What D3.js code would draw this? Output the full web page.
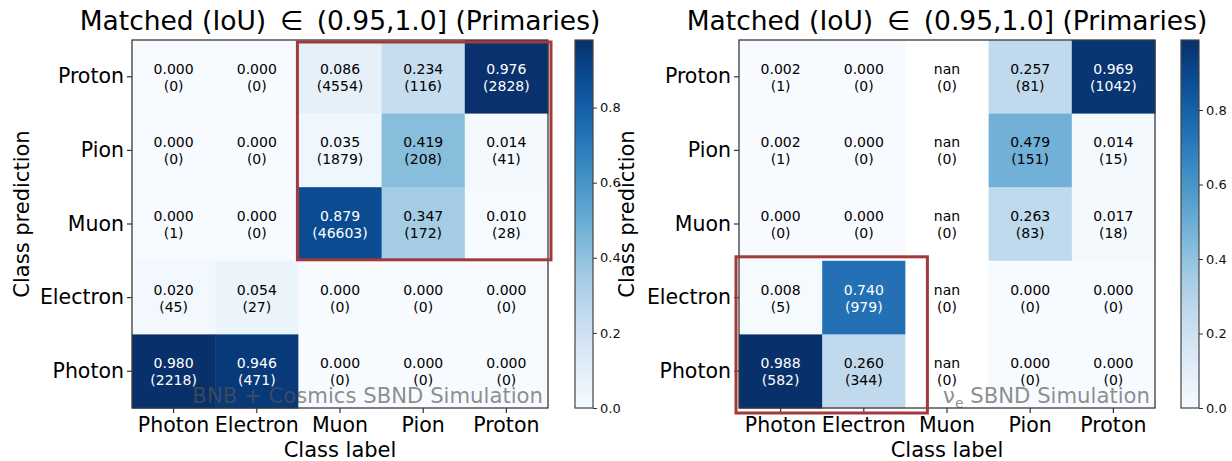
<!DOCTYPE html>
<html>
<head>
<meta charset="utf-8">
<script src="https://cdn.jsdelivr.net/npm/d3@7"></script>
<style>
  body { margin: 0; background: #fff; }
  svg { display: block; font-family: "DejaVu Sans", sans-serif; }
</style>
</head>
<body>
<svg id="chart" width="1232" height="461"></svg>
<script>
// class order on the x axis (true label) and on the y axis (prediction, top to bottom)
var labelClasses = ["Photon", "Electron", "Muon", "Pion", "Proton"];
var predClasses = ["Proton", "Pion", "Muon", "Electron", "Photon"];
var cbTicks = [0.0, 0.2, 0.4, 0.6, 0.8];

// left panel: BNB + Cosmics  (rows follow predClasses, columns follow labelClasses)
var bnbFrac = [
  [0.000, 0.000, 0.086, 0.234, 0.976],
  [0.000, 0.000, 0.035, 0.419, 0.014],
  [0.000, 0.000, 0.879, 0.347, 0.010],
  [0.020, 0.054, 0.000, 0.000, 0.000],
  [0.980, 0.946, 0.000, 0.000, 0.000]
];
var bnbCount = [
  [0, 0, 4554, 116, 2828],
  [0, 0, 1879, 208, 41],
  [1, 0, 46603, 172, 28],
  [45, 27, 0, 0, 0],
  [2218, 471, 0, 0, 0]
];

// right panel: nu_e  (null = nan)
var nueFrac = [
  [0.002, 0.000, null, 0.257, 0.969],
  [0.002, 0.000, null, 0.479, 0.014],
  [0.000, 0.000, null, 0.263, 0.017],
  [0.008, 0.740, null, 0.000, 0.000],
  [0.988, 0.260, null, 0.000, 0.000]
];
var nueCount = [
  [1, 0, 0, 81, 1042],
  [1, 0, 0, 151, 15],
  [0, 0, 0, 83, 18],
  [5, 979, 0, 0, 0],
  [582, 344, 0, 0, 0]
];

var titleText = "Matched (IoU) \u2009\u2208\u2009 (0.95,1.0] (Primaries)";
var svg = d3.select("#chart");
var defs = svg.append("defs");

//draw one confusion matrix panel
function drawPanel(cfg) {
  var x = d3.scaleBand().domain(labelClasses).range([cfg.left, cfg.left + 416]);
  var y = d3.scaleBand().domain(predClasses).range([40, 408]);
  var vmax = d3.max(cfg.frac, function (r) { return d3.max(r); });
  var color = d3.scaleSequential(d3.interpolateBlues).domain([0, vmax]);

  var cells = [];
  cfg.frac.forEach(function (row, i) {
    row.forEach(function (v, j) {
      cells.push({ pred: predClasses[i], label: labelClasses[j], v: v, n: cfg.count[i][j] });
    });
  });

  var g = svg.append("g");
  g.selectAll("rect.cell").data(cells).enter().append("rect")
    .attr("class", "cell")
    .attr("x", function (d) { return x(d.label); })
    .attr("y", function (d) { return y(d.pred); })
    .attr("width", x.bandwidth() + 0.5)
    .attr("height", y.bandwidth() + 0.5)
    .attr("fill", function (d) { return d.v === null ? "#ffffff" : color(d.v); });

  var txt = g.selectAll("text.val").data(cells).enter().append("text")
    .attr("class", "val")
    .attr("text-anchor", "middle")
    .attr("font-size", 14)
    .attr("fill", function (d) { return d.v !== null && d.v > vmax / 2 ? "#ffffff" : "#000000"; });
  txt.append("tspan")
    .attr("x", function (d) { return x(d.label) + x.bandwidth() / 2; })
    .attr("y", function (d) { return y(d.pred) + y.bandwidth() / 2 - 3; })
    .text(function (d) { return d.v === null ? "nan" : d.v.toFixed(3); });
  txt.append("tspan")
    .attr("x", function (d) { return x(d.label) + x.bandwidth() / 2; })
    .attr("y", function (d) { return y(d.pred) + y.bandwidth() / 2 + 14; })
    .text(function (d) { return "(" + d.n + ")"; });

  // watermark
  var wm = g.append("text")
    .attr("x", x.range()[1] - 5)
    .attr("y", 403)
    .attr("text-anchor", "end")
    .attr("font-size", 21.2)
    .attr("fill", "#555")
    .attr("fill-opacity", 0.68);
  cfg.watermark(wm);

  // axes
  var xAxis = g.append("g").attr("transform", "translate(0,408)")
    .call(d3.axisBottom(x).tickSize(5).tickPadding(4));
  var yAxis = g.append("g").attr("transform", "translate(" + cfg.left + ",0)")
    .call(d3.axisLeft(y).tickSize(5).tickPadding(3));
  [xAxis, yAxis].forEach(function (a) {
    a.select(".domain").remove();
    a.selectAll("line").attr("stroke", "#333").attr("stroke-width", 1.2);
    a.selectAll("text").attr("font-size", 20.5).attr("fill", "#000")
      .style("font-family", "DejaVu Sans");
  });
  xAxis.selectAll("text").attr("dy", "0.75em");

  g.append("rect")
    .attr("x", x.range()[0]).attr("y", 40)
    .attr("width", 416).attr("height", 368)
    .attr("fill", "none").attr("stroke", "#3a3a3a").attr("stroke-width", 1.3);

  // red highlight box
  var b = cfg.box;
  g.append("rect")
    .attr("x", x(b.c0) + b.pad[0])
    .attr("y", y(b.r0) + b.pad[1])
    .attr("width", x(b.c1) + x.bandwidth() + b.pad[2] - x(b.c0) - b.pad[0])
    .attr("height", y(b.r1) + y.bandwidth() + b.pad[3] - y(b.r0) - b.pad[1])
    .attr("fill", "none").attr("stroke", "#a23a3a").attr("stroke-width", 3);

  // titles and labels
  var cx = cfg.left + 208;
  g.append("text").attr("x", cx).attr("y", 30).attr("text-anchor", "middle")
    .attr("font-size", 26.5).text(titleText);
  g.append("text").attr("x", cx).attr("y", 457).attr("text-anchor", "middle")
    .attr("font-size", 21).text("Class label");

  // colorbar
  var gradId = "grad" + cfg.left.toFixed(0);
  var grad = defs.append("linearGradient").attr("id", gradId)
    .attr("x1", 0).attr("y1", 1).attr("x2", 0).attr("y2", 0);
  d3.range(0, 1.0001, 0.05).forEach(function (t) {
    grad.append("stop").attr("offset", t).attr("stop-color", color(t * vmax));
  });
  var cb = d3.scaleLinear().domain([0, vmax]).range([408, 40]);
  g.append("rect").attr("x", cfg.cbX).attr("y", 40).attr("width", 18).attr("height", 368)
    .attr("fill", "url(#" + gradId + ")").attr("stroke", "#444").attr("stroke-width", 1.2);
  var cbAxis = g.append("g").attr("transform", "translate(" + (cfg.cbX + 18) + ",0)")
    .call(d3.axisRight(cb).tickValues(cbTicks).tickFormat(d3.format(".1f")).tickSize(4).tickPadding(3));
  cbAxis.select(".domain").remove();
  cbAxis.selectAll("line").attr("stroke", "#333");
  cbAxis.selectAll("text").attr("font-size", 13).attr("fill", "#111")
    .style("font-family", "DejaVu Sans");
}

drawPanel({
  left: 132, cbX: 575, frac: bnbFrac, count: bnbCount,
  box: { c0: "Muon", c1: "Proton", r0: "Proton", r1: "Muon", pad: [-1, 2, 3, -1] },
  watermark: function (t) { t.text("BNB + Cosmics SBND Simulation"); }
});
drawPanel({
  left: 739, cbX: 1181, frac: nueFrac, count: nueCount,
  box: { c0: "Photon", c1: "Electron", r0: "Electron", r1: "Photon", pad: [-3, -4, 22, 5] },
  watermark: function (t) {
    t.append("tspan").text("\u03bd");
    t.append("tspan").attr("font-size", 14).attr("dy", 5).text("e");
    t.append("tspan").attr("dy", -5).text(" SBND Simulation");
  }
});

// y labels drawn last so the right one sits over the left colorbar
[22, 627].forEach(function (lx) {
  svg.append("text")
    .attr("transform", "translate(" + (lx + 7) + ",214) rotate(-90)")
    .attr("text-anchor", "middle")
    .attr("font-size", 21)
    .text("Class prediction");
});
</script>
</body>
</html>
